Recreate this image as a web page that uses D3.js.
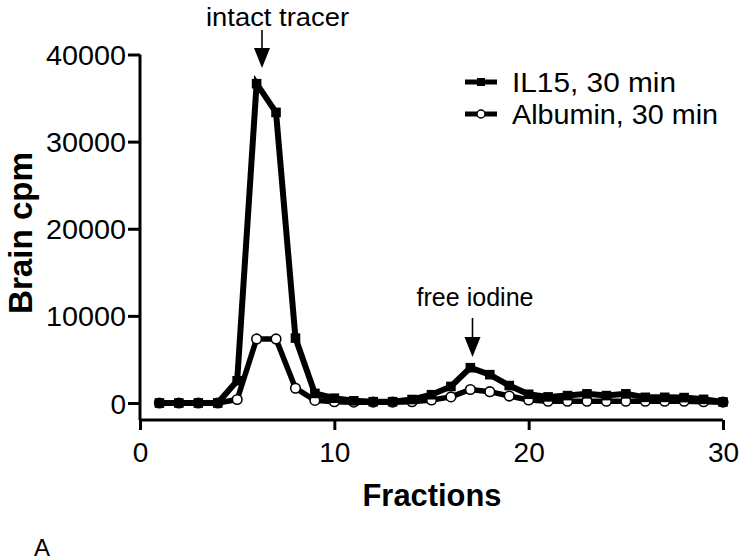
<!DOCTYPE html>
<html>
<head>
<meta charset="utf-8">
<script src="https://cdn.jsdelivr.net/npm/d3@7"></script>
<style>
  html, body { margin: 0; padding: 0; background: #fff; }
  svg { display: block; }
  text { font-family: "Liberation Sans", Arial, sans-serif; fill: #000; }
</style>
</head>
<body>
<svg id="chart" width="744" height="560"></svg>
<script>
// ---- data ----
const fractions = [1,2,3,4,5,6,7,8,9,10,11,12,13,14,15,16,17,18,19,20,21,22,23,24,25,26,27,28,29,30];
const il15 = [0,0,0,0,2550,36650,33350,7450,1100,550,250,150,150,400,950,1900,4050,3250,2000,1000,700,850,1050,850,1050,650,650,620,420,120];
const albumin = [0,0,0,0,400,7350,7350,1700,300,150,100,100,100,150,350,700,1550,1300,800,350,200,200,200,200,200,200,200,200,150,100];
const xTicks = [0,10,20,30];
const yTicks = [0,10000,20000,30000,40000];
const seriesNames = ["IL15, 30 min", "Albumin, 30 min"];
const xTitle = "Fractions";
const yTitle = "Brain cpm";
const annotations = ["intact tracer", "free iodine"];

const svg = d3.select("#chart");
const x = d3.scaleLinear().domain([0, 30]).range([140, 723]);
const y = d3.scaleLinear().domain([0, 40000]).range([403, 54.5]);
const axisY = 420;

// axes
const gx = svg.append("g").attr("transform", `translate(0,${axisY})`)
  .call(d3.axisBottom(x).tickValues(xTicks).tickSize(10).tickPadding(5).tickFormat(d3.format("d")));
gx.select(".domain").attr("d", `M${x(0)},0H${x(30)}`);
const gy = svg.append("g").attr("transform", `translate(${x(0)},0)`)
  .call(d3.axisLeft(y).tickValues(yTicks).tickSize(12).tickPadding(2).tickFormat(d3.format("d")));
gy.select(".domain").attr("d", `M0,${y(40000)}V${axisY}`);
[gx, gy].forEach(g => {
  g.selectAll(".domain, .tick line").attr("stroke", "#000").attr("stroke-width", 3);
  g.selectAll("text").attr("font-size", 28).attr("font-family", "Liberation Sans, Arial, sans-serif").attr("fill", "#000");
});
gx.selectAll("text").attr("dy", "0.95em");
gy.selectAll("text").attr("dy", "0.36em").attr("textLength", d => d === 0 ? null : 80).attr("lengthAdjust", "spacingAndGlyphs");

// lines
const line = d3.line().x((d, i) => x(fractions[i])).y(d => y(d));

svg.append("path").datum(albumin).attr("d", line)
  .attr("fill", "none").attr("stroke", "#000").attr("stroke-width", 5.5).attr("stroke-linejoin", "miter");
svg.append("g").selectAll("circle").data(albumin).join("circle")
  .attr("cx", (d, i) => x(fractions[i])).attr("cy", d => y(d)).attr("r", 4.8)
  .attr("fill", "#fff").attr("stroke", "#000").attr("stroke-width", 1.6);

svg.append("path").datum(il15).attr("d", line)
  .attr("fill", "none").attr("stroke", "#000").attr("stroke-width", 6).attr("stroke-linejoin", "miter");
svg.append("g").selectAll("rect").data(il15).join("rect")
  .attr("x", (d, i) => x(fractions[i]) - 4.8).attr("y", d => y(d) - 4.8)
  .attr("width", 9.6).attr("height", 9.6).attr("fill", "#000");

// axis titles
svg.append("text").attr("x", 432).attr("y", 506).attr("text-anchor", "middle")
  .attr("font-size", 32).attr("font-weight", "bold").attr("textLength", 139).attr("lengthAdjust", "spacingAndGlyphs")
  .text(xTitle);
svg.append("text").attr("transform", "translate(32,233) rotate(-90)").attr("text-anchor", "middle")
  .attr("font-size", 33).attr("font-weight", "bold").attr("textLength", 162).attr("lengthAdjust", "spacingAndGlyphs")
  .text(yTitle);

// legend
const legend = svg.append("g");
const legY = [82, 114];
const legW = [164, 206];
seriesNames.forEach((name, i) => {
  legend.append("line").attr("x1", 465).attr("x2", 497).attr("y1", legY[i]).attr("y2", legY[i])
    .attr("stroke", "#000").attr("stroke-width", 5);
  if (i === 0) {
    legend.append("rect").attr("x", 477).attr("y", legY[i] - 4).attr("width", 8).attr("height", 8).attr("fill", "#000");
  } else {
    legend.append("circle").attr("cx", 481).attr("cy", legY[i]).attr("r", 4)
      .attr("fill", "#fff").attr("stroke", "#000").attr("stroke-width", 1.5);
  }
  legend.append("text").attr("x", 512).attr("y", legY[i] + 10).attr("font-size", 27)
    .attr("textLength", legW[i]).attr("lengthAdjust", "spacingAndGlyphs").text(name);
});

// annotations with arrows
const ann = [
  {label: annotations[0], tx: 277.5, ty: 26, tw: 143, fs: 26, ax: 262, a1: 30, a2: 48, a3: 68},
  {label: annotations[1], tx: 475, ty: 306, tw: 117, fs: 25, ax: 472.5, a1: 318, a2: 337, a3: 357}
];
ann.forEach(a => {
  svg.append("text").attr("x", a.tx).attr("y", a.ty).attr("text-anchor", "middle")
    .attr("font-size", a.fs).attr("textLength", a.tw).attr("lengthAdjust", "spacingAndGlyphs").text(a.label);
  svg.append("line").attr("x1", a.ax).attr("x2", a.ax).attr("y1", a.a1).attr("y2", a.a2 + 1)
    .attr("stroke", "#000").attr("stroke-width", 1.6);
  svg.append("path").attr("d", `M${a.ax - 8},${a.a2} L${a.ax + 8},${a.a2} L${a.ax},${a.a3} Z`).attr("fill", "#000");
});

// panel letter
svg.append("text").attr("x", 34).attr("y", 556).attr("font-family", "Liberation Serif, Times New Roman, serif")
  .attr("font-size", 24).text("A");
</script>
</body>
</html>
